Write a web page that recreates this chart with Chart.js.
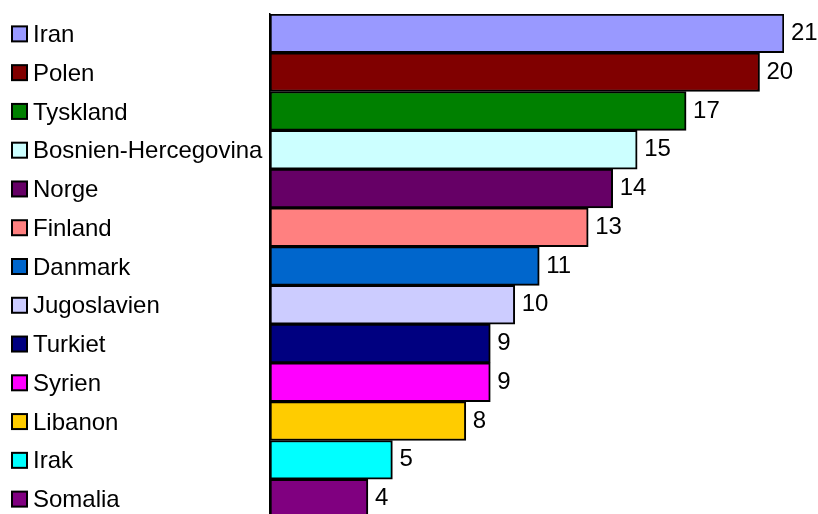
<!DOCTYPE html>
<html>
<head>
<meta charset="utf-8">
<script src="https://cdn.jsdelivr.net/npm/chart.js@4"></script>
<style>
    html, body { margin: 0; padding: 0; background: #fff; overflow: hidden; }
    #wrap { width: 818px; height: 518px; }
</style>
</head>
<body>
<div id="wrap"><canvas id="chart"></canvas></div>
<script>
// Data
const countries = ["Iran", "Polen", "Tyskland", "Bosnien-Hercegovina", "Norge", "Finland",
    "Danmark", "Jugoslavien", "Turkiet", "Syrien", "Libanon", "Irak", "Somalia"];
const counts = [21, 20, 17, 15, 14, 13, 11, 10, 9, 9, 8, 5, 4];
const colors = ["#9999FF", "#800000", "#008000", "#CCFFFF", "#660066", "#FF8080",
    "#0066CC", "#CCCCFF", "#000080", "#FF00FF", "#FFCC00", "#00FFFF", "#800080"];

const FONT = '24px "Liberation Sans", Arial, sans-serif';

// Draw the left labels with colour squares, and the values at the end of the bars
const labelPlugin = {
    id: "labelPlugin",
    afterDatasetsDraw(chart) {
        const ctx = chart.ctx;
        const meta = chart.getDatasetMeta(0);
        ctx.save();
        ctx.font = FONT;
        ctx.textBaseline = "middle";
        meta.data.forEach(function (bar, i) {
            const y = bar.y;
            // colour square
            ctx.fillStyle = colors[i];
            ctx.fillRect(12, y - 7, 15, 15);
            ctx.strokeStyle = "#000";
            ctx.lineWidth = 2;
            ctx.strokeRect(12, y - 7, 15, 15);
            // country name
            ctx.fillStyle = "#000";
            ctx.textAlign = "left";
            ctx.fillText(countries[i], 33, y + 2);
            // value
            ctx.fillText(String(counts[i]), bar.x + 7, y);
        });
        ctx.restore();
    }
};

const context = document.getElementById("chart").getContext("2d");
new Chart(context, {
    type: "bar",
    data: {
        labels: countries,
        datasets: [{
            data: counts,
            backgroundColor: colors,
            borderColor: "#000",
            borderWidth: 2,
            borderSkipped: false,
            categoryPercentage: 1,
            barPercentage: 1
        }]
    },
    options: {
        indexAxis: "y",
        responsive: true,
        maintainAspectRatio: false,
        animation: false,
        layout: { padding: { top: 14, right: 34, bottom: 0, left: 0 } },
        scales: {
            x: {
                min: 0,
                max: 21,
                display: false
            },
            y: {
                ticks: { display: false },
                grid: { display: false },
                border: { display: true, color: "#000", width: 1.5 },
                afterFit(scale) { scale.width = 270; }
            }
        },
        plugins: {
            legend: { display: false },
            tooltip: { enabled: false }
        }
    },
    plugins: [labelPlugin]
});
</script>
</body>
</html>
